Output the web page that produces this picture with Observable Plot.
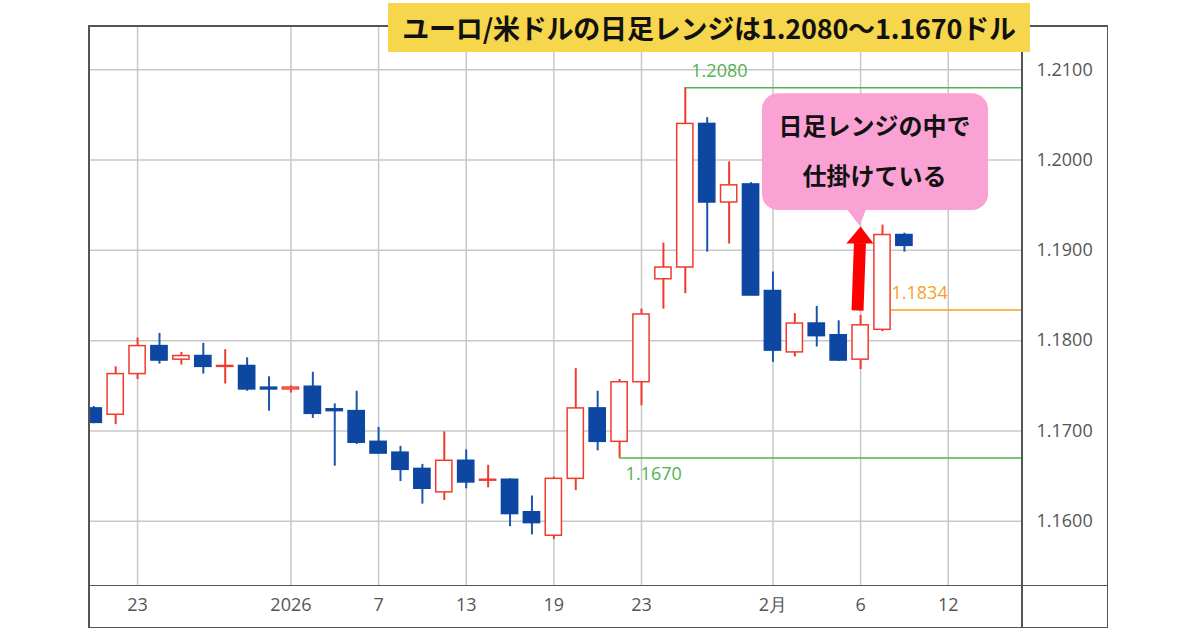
<!DOCTYPE html>
<html>
<head>
<meta charset="utf-8">
<script src="https://cdn.jsdelivr.net/npm/d3@7"></script>
<script src="https://cdn.jsdelivr.net/npm/@observablehq/plot@0.6"></script>
<style>
  body { margin: 0; background: #fff; }
  #wrap { position: relative; width: 1200px; height: 630px; overflow: hidden; background: #fff; }
  #myplot { position: absolute; left: 0; top: 0; }
  .ln { position: absolute; background: #555; }
  #title {
    position: absolute; left: 388px; top: 3px; width: 642px; height: 49px;
    background: #f6d64c; color: #111;
    font-family: "Noto Sans CJK JP", sans-serif; font-weight: 700; font-size: 27px;
    display: flex; align-items: center; justify-content: center; letter-spacing: -0.2px;
  }
</style>
</head>
<body>
<div id="wrap">
  <div id="myplot"></div>
  <div class="ln" style="left:88px;top:25px;width:1020px;height:1.5px"></div>
  <div class="ln" style="left:88px;top:626.5px;width:1020px;height:1.5px"></div>
  <div class="ln" style="left:88px;top:25px;width:1.5px;height:603px"></div>
  <div class="ln" style="left:1106.5px;top:25px;width:1.5px;height:603px"></div>
  <div class="ln" style="left:1021px;top:25px;width:1.5px;height:603px"></div>
  <div class="ln" style="left:88px;top:584.5px;width:1020px;height:1.5px"></div>
  <div id="title">ユーロ/米ドルの日足レンジは1.2080～1.1670ドル</div>
</div>
<script>
// daily candles, weekdays only (Dec 19 2025 .. Feb 10 2026)
const days = ["12/19","12/22","12/23","12/24","12/25","12/26","12/29","12/30","12/31","1/1",
  "1/2","1/5","1/6","1/7","1/8","1/9","1/12","1/13","1/14","1/15","1/16","1/19","1/20","1/21",
  "1/22","1/23","1/26","1/27","1/28","1/29","1/30","2/2","2/3","2/4","2/5","2/6","2/9","2/10"];
const open  = [1.1725,1.1718,1.1763,1.1794,1.1779,1.1783,1.1771,1.1772,1.1748,1.1746,
  1.1749,1.1724,1.1722,1.1688,1.1676,1.1658,1.1632,1.1667,1.1645,1.1646,1.1610,1.1584,1.1647,1.1725,
  1.1688,1.1754,1.1868,1.1881,1.2040,1.1953,1.1973,1.1855,1.1787,1.1819,1.1806,1.1779,1.1812,1.1917];
const high  = [1.1727,1.1771,1.1803,1.1808,1.1787,1.1797,1.1790,1.1781,1.1760,1.1750,
  1.1765,1.1730,1.1744,1.1704,1.1683,1.1663,1.1699,1.1679,1.1662,1.1647,1.1628,1.1649,1.1769,1.1744,
  1.1757,1.1835,1.1908,1.2080,1.2047,1.1998,1.1975,1.1876,1.1830,1.1838,1.1822,1.1828,1.1928,1.1919];
const low   = [1.1708,1.1707,1.1757,1.1774,1.1773,1.1763,1.1752,1.1744,1.1722,1.1742,
  1.1714,1.1661,1.1685,1.1675,1.1644,1.1619,1.1623,1.1636,1.1637,1.1594,1.1585,1.1580,1.1634,1.1678,
  1.1670,1.1728,1.1835,1.1852,1.1898,1.1907,1.1850,1.1776,1.1782,1.1793,1.1777,1.1768,1.1810,1.1898];
const close = [1.1709,1.1763,1.1794,1.1778,1.1783,1.1771,1.1772,1.1746,1.1746,1.1748,
  1.1719,1.1722,1.1687,1.1675,1.1657,1.1636,1.1667,1.1643,1.1646,1.1608,1.1598,1.1647,1.1725,1.1688,
  1.1754,1.1829,1.1881,1.2040,1.1953,1.1972,1.1850,1.1789,1.1819,1.1805,1.1778,1.1817,1.1917,1.1905];

// x tick positions (trading-day index) and their labels
const xTicks = [2, 9, 13, 17, 21, 25, 31, 35, 39];
const xTickLabels = ["23", "2026", "7", "13", "19", "23", "2月", "6", "12"];
const yTicks = [1.16, 1.17, 1.18, 1.19, 1.20, 1.21];

// range lines: level, first day index, label
const levels = [
  {y: 1.2080, x1: 27, label: "1.2080", color: "#52b152"},
  {y: 1.1670, x1: 24, label: "1.1670", color: "#52b152"},
  {y: 1.1834, x1: 36.41, label: "1.1834", color: "#f5a21c"}
];

// callout + arrow (in trading-day / price units)
const note = {x1: 30.52, x2: 40.84, y1: 1.19442, y2: 1.20734, lines: ["日足レンジの中で", "仕掛けている"], lineY: [1.20361, 1.19807], cx: 35.64};
const noteTail = [{x: 34.35, y: 1.19464}, {x: 35.27, y: 1.19464}, {x: 34.95, y: 1.19276}];
const arrowShaft = {x1: 34.86, y1: 1.18334, x2: 34.97, y2: 1.1908};
const arrowHead = [{x: 34.35, y: 1.19076}, {x: 35.59, y: 1.19076}, {x: 35.0, y: 1.19265}];

const blue = "#0d47a1", red = "#ef3b2d";
const candles = days.map((d, i) => ({day: d, i, open: open[i], high: high[i], low: low[i], close: close[i], up: close[i] >= open[i]}));
const xmax = 42.39;
const levelText = {x: "x1", y: "y", text: "label", fill: "color", textAnchor: "start", fontSize: 18};

const plot = Plot.plot({
  width: 1200,
  height: 630,
  marginLeft: 88,
  marginRight: 178,
  marginTop: 25,
  marginBottom: 45,
  style: {fontFamily: "'Open Sans', sans-serif", fontSize: "18px", color: "#555", background: "transparent"},
  x: {domain: [-0.24, xmax]},
  y: {domain: [1.15289, 1.2149]},
  marks: [
    Plot.gridY(yTicks, {stroke: "#c8c8c8", strokeOpacity: 1, strokeWidth: 1.5}),
    Plot.gridX(xTicks, {stroke: "#c8c8c8", strokeOpacity: 1, strokeWidth: 1.5}),
    Plot.axisY(yTicks, {anchor: "right", tickSize: 0, tickPadding: 14, textAnchor: "start", tickFormat: d => d.toFixed(4), label: null, fill: "#555", fontSize: 18}),
    Plot.axisX(xTicks, {anchor: "bottom", tickSize: 0, tickPadding: 13, tickFormat: d => xTickLabels[xTicks.indexOf(d)], label: null, fill: "#555", fontSize: 18}),
    Plot.ruleY(levels, {y: "y", x1: "x1", x2: () => xmax, stroke: "color", strokeWidth: 1.5}),
    Plot.text([levels[0]], {...levelText, dx: 6, dy: -17}),
    Plot.text([levels[1]], {...levelText, dx: 6, dy: 16}),
    Plot.text([levels[2]], {...levelText, dx: 0, dy: -17}),
    Plot.ruleX(candles, {x: "i", y1: "low", y2: "high", stroke: d => d.up ? red : "#1a56ab", strokeWidth: 2, clip: true}),
    Plot.rect(candles, {
      x1: d => d.i - 0.37, x2: d => d.i + 0.37, y1: "open", y2: "close",
      fill: d => d.up ? "white" : blue, stroke: d => d.up ? red : blue, strokeWidth: 1.5, clip: true
    }),
    Plot.rect([note], {x1: "x1", x2: "x2", y1: "y1", y2: "y2", fill: "#f9a2d3", rx: 16}),
    Plot.line(noteTail, {x: "x", y: "y", fill: "#f9a2d3", stroke: "none"}),
    Plot.text(note.lines, {x: note.cx, y: (d, i) => note.lineY[i], text: d => d, fontSize: 24, fontWeight: 700, fill: "#111", fontFamily: "'Noto Sans CJK JP', sans-serif"}),
    Plot.link([arrowShaft], {x1: "x1", y1: "y1", x2: "x2", y2: "y2", stroke: "#ff0000", strokeWidth: 12}),
    Plot.line(arrowHead, {x: "x", y: "y", fill: "#ff0000", stroke: "none"})
  ]
});

document.querySelector("#myplot").append(plot);
</script>
</body>
</html>
